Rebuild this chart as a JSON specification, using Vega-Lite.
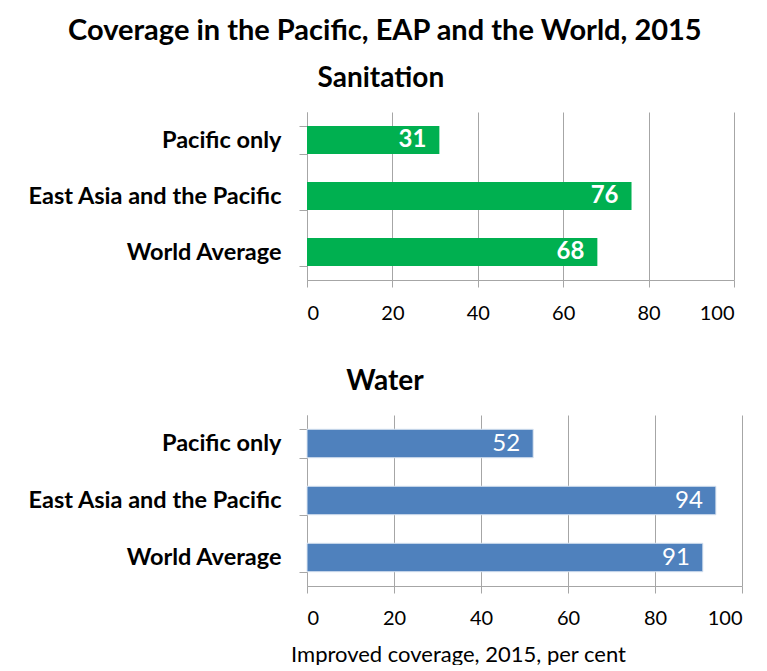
{
  "$schema": "https://vega.github.io/schema/vega-lite/v6.json",
  "padding": {"left": 27, "top": 17, "right": 10, "bottom": 0},
  "background": "white",
  "title": {"text": "Coverage in the Pacific, EAP and the World, 2015", "font": "Lato", "fontSize": 29, "fontWeight": "bold", "color": "black", "anchor": "middle", "offset": 19},
  "data": {"values": [
    {"panel": "Sanitation", "region": "Pacific only", "value": 31},
    {"panel": "Sanitation", "region": "East Asia and the Pacific", "value": 76},
    {"panel": "Sanitation", "region": "World Average", "value": 68},
    {"panel": "Water", "region": "Pacific only", "value": 52},
    {"panel": "Water", "region": "East Asia and the Pacific", "value": 94},
    {"panel": "Water", "region": "World Average", "value": 91}
  ]},
  "config": {
    "view": {"stroke": null},
    "concat": {"spacing": 45},
    "axis": {"domainColor": "#a6a6a6", "tickColor": "#a6a6a6", "gridColor": "#a6a6a6", "domainWidth": 1, "tickWidth": 1, "gridWidth": 1, "labelColor": "black", "labelFont": "Lato", "titleFont": "Lato"}
  },
  "vconcat": [
    {
      "title": {"text": "Sanitation", "font": "Lato", "fontSize": 28, "fontWeight": "bold", "color": "black", "anchor": "middle", "frame": "bounds", "offset": 7},
      "width": 427, "height": 168,
      "transform": [{"filter": "datum.panel === 'Sanitation'"}],
      "encoding": {
        "y": {"field": "region", "type": "nominal", "sort": ["Pacific only", "East Asia and the Pacific", "World Average"], "scale": {"paddingInner": 0.5, "paddingOuter": 0.25},
          "axis": {"title": null, "tickBand": "extent", "tickSize": 8, "labelPadding": 18, "labelFontSize": 23.5, "labelFontWeight": "bold", "labelLimit": 400, "grid": false}},
        "x": {"field": "value", "type": "quantitative", "scale": {"domain": [0, 100]},
          "axis": {"values": [0, 20, 40, 60, 80, 100], "title": null, "grid": true, "tickSize": 7, "labelPadding": 16, "labelFontSize": 20}}
      },
      "layer": [
        {"mark": {"type": "bar", "color": "#00B050"}},
        {"mark": {"type": "text", "align": "right", "baseline": "middle", "dx": -13, "color": "white", "fontWeight": "bold", "fontSize": 24, "font": "Lato"}, "encoding": {"text": {"field": "value", "type": "quantitative"}}}
      ]
    },
    {
      "title": {"text": "Water", "font": "Lato", "fontSize": 28, "fontWeight": "bold", "color": "black", "anchor": "middle", "frame": "bounds", "offset": 7},
      "width": 435, "height": 171,
      "transform": [{"filter": "datum.panel === 'Water'"}],
      "encoding": {
        "y": {"field": "region", "type": "nominal", "sort": ["Pacific only", "East Asia and the Pacific", "World Average"], "scale": {"paddingInner": 0.5, "paddingOuter": 0.25},
          "axis": {"title": null, "tickBand": "extent", "tickSize": 8, "labelPadding": 18, "labelFontSize": 23.5, "labelFontWeight": "bold", "labelLimit": 400, "grid": false}},
        "x": {"field": "value", "type": "quantitative", "scale": {"domain": [0, 100]},
          "axis": {"values": [0, 20, 40, 60, 80, 100], "title": "Improved coverage, 2015, per cent", "titleFontSize": 22, "titleFontWeight": "normal", "titleColor": "black", "titlePadding": 16, "titleX": 151, "titleAlign": "center", "grid": true, "tickSize": 7, "labelPadding": 15, "labelFontSize": 20}}
      },
      "layer": [
        {"mark": {"type": "bar", "color": "#4F81BD", "stroke": "#dbe5f1", "strokeWidth": 1}},
        {"mark": {"type": "text", "align": "right", "baseline": "middle", "dx": -13, "color": "white", "fontSize": 24, "font": "Lato"}, "encoding": {"text": {"field": "value", "type": "quantitative"}}}
      ]
    }
  ]
}
